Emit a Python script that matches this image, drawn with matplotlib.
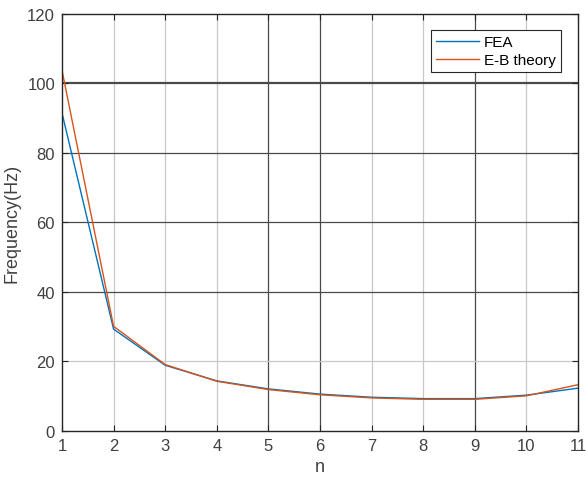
import matplotlib
matplotlib.use('Agg')
import matplotlib.pyplot as plt

n = [1, 2, 3, 4, 5, 6, 7, 8, 9, 10, 11]
fea = [91.5, 29.3, 18.9, 14.4, 12.1, 10.6, 9.7, 9.3, 9.3, 10.3, 12.3]
eb = [103.8, 30.1, 19.1, 14.3, 11.9, 10.4, 9.5, 9.1, 9.1, 10.1, 13.3]

plt.rcParams['font.family'] = ['Liberation Sans', 'DejaVu Sans']
fig = plt.figure(figsize=(5.88, 4.81), dpi=100)
ax = fig.add_axes([0.1054, 0.102, 0.8776, 0.867])

# grid lines (some appear darker in the reference)
dark_x = [5, 6, 9]
dark_y = [40, 60, 80, 100]
for x in n[1:-1]:
    c = '#4a4a4a' if x in dark_x else '#c8c8c8'
    ax.axvline(x, color=c, lw=0.9, zorder=0)
for y in [20, 40, 60, 80, 100]:
    c = '#4a4a4a' if y in dark_y else '#c8c8c8'
    lw = 1.6 if y == 100 else 0.9
    ax.axhline(y, color=c, lw=lw, zorder=0)

ax.plot(n, fea, color='#0072BD', lw=1.0, label='FEA')
ax.plot(n, eb, color='#D95319', lw=1.0, label='E-B theory')

ax.set_xlim(1, 11)
ax.set_ylim(0, 120)
ax.set_xticks(n)
ax.set_yticks([0, 20, 40, 60, 80, 100, 120])
ax.tick_params(direction='in', top=True, right=True, labelsize=12,
               labelcolor='#404040', colors='#262626', length=4, width=0.8,
               pad=5)
for s in ax.spines.values():
    s.set_color('#262626')
    s.set_linewidth(1.0)
ax.set_xlabel('n', fontsize=13, color='#404040', labelpad=4)
ax.set_ylabel('Frequency(Hz)', fontsize=13, color='#404040', labelpad=5)

leg = ax.legend(loc='upper right', bbox_to_anchor=(0.967, 0.962), fontsize=11,
                fancybox=False, framealpha=1, edgecolor='#262626',
                handlelength=2.8, handletextpad=0.3, borderpad=0.35,
                labelspacing=0.25, borderaxespad=0)
leg.get_frame().set_linewidth(0.8)

fig.savefig('out.png', dpi=100)
